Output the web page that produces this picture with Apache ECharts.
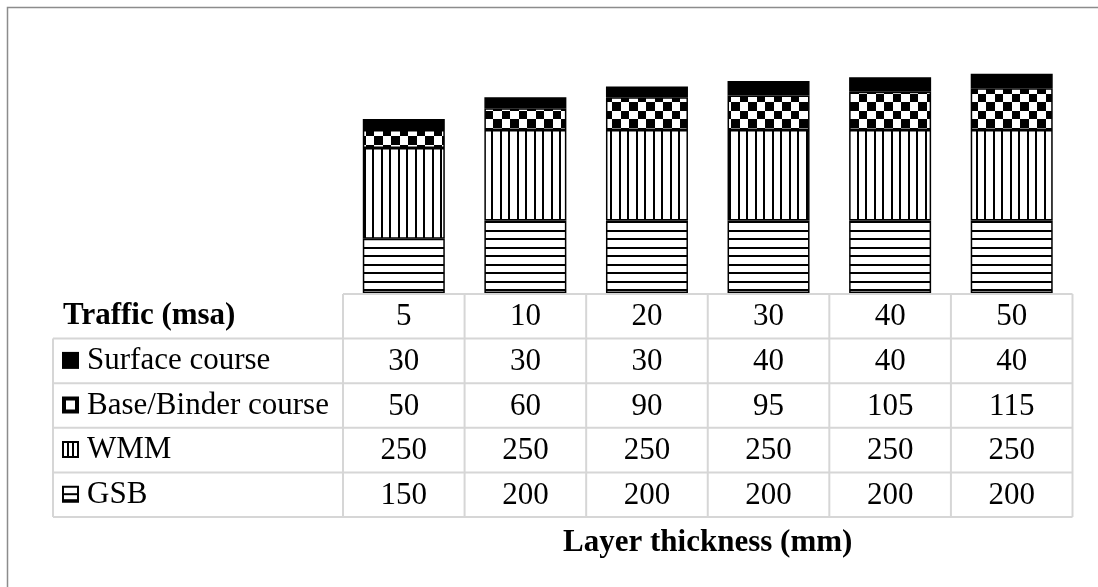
<!DOCTYPE html>
<html>
<head>
<meta charset="utf-8">
<script src="https://cdn.jsdelivr.net/npm/echarts@6/dist/echarts.min.js"></script>
<style>
  html, body { margin: 0; padding: 0; background: #ffffff; }
  #chart { width: 1098px; height: 587px; }
</style>
</head>
<body>
<div id="chart"></div>
<script>
// Pavement layer thicknesses (mm) per design traffic (msa)
const traffic = ['5', '10', '20', '30', '40', '50'];
const surfaceCourse = [30, 30, 30, 40, 40, 40];
const baseBinderCourse = [50, 60, 90, 95, 105, 115];
const wmm = [250, 250, 250, 250, 250, 250];
const gsb = [150, 200, 200, 200, 200, 200];

const rowHeader = 'Traffic (msa)';
const layerNames = ['Surface course', 'Base/Binder course', 'WMM', 'GSB'];
const axisTitle = 'Layer thickness (mm)';

const FONT = "'Liberation Serif', 'Times New Roman', serif";
const GRID_LINE = '#d6d6d6';

// Hatch tiles used as bar fills
function tile(draw) {
  const c = document.createElement('canvas');
  c.width = 17; c.height = 17;
  const g = c.getContext('2d');
  g.fillStyle = '#ffffff';
  g.fillRect(0, 0, 17, 17);
  g.fillStyle = '#000000';
  draw(g);
  return c;
}
const hLines = tile(g => { g.fillRect(0, 0, 17, 2); g.fillRect(0, 9, 17, 2); });
const vLines = tile(g => { g.fillRect(7, 0, 2, 17); g.fillRect(15, 0, 2, 17); });
const checker = tile(g => { g.fillRect(0, 0, 9, 9); g.fillRect(9, 9, 8, 8); });

// Stacked bottom-to-top
const layers = [
  { name: 'GSB', data: gsb, fill: { image: hLines, repeat: 'repeat' } },
  { name: 'WMM', data: wmm, fill: { image: vLines, repeat: 'repeat' } },
  { name: 'Base/Binder course', data: baseBinderCourse, fill: { image: checker, repeat: 'repeat' } },
  { name: 'Surface course', data: surfaceCourse, fill: '#000000' }
];

// Table rows, top-to-bottom
const tableRows = [surfaceCourse, baseBinderCourse, wmm, gsb];

const chart = echarts.init(document.getElementById('chart'), null, { renderer: 'canvas' });

chart.setOption({
  animation: false,
  backgroundColor: '#ffffff',
  grid: { left: 343, right: 25.5, top: 39.25, bottom: 294, outerBoundsMode: 'none' },
  xAxis: {
    type: 'category',
    data: traffic,
    axisLine: { show: false },
    axisTick: { show: false },
    axisLabel: { show: false },
    splitLine: { show: false }
  },
  yAxis: { type: 'value', min: 0, max: 700, show: false },
  series: layers.map(l => ({
    type: 'bar',
    name: l.name,
    stack: 'layers',
    data: l.data,
    barWidth: 82,
    silent: true,
    emphasis: { disabled: true },
    itemStyle: { color: l.fill, borderColor: '#000000', borderWidth: 1.5 }
  }))
});

// Data table under the plot, aligned to the category axis
const centers = traffic.map((t, i) => chart.convertToPixel({ xAxisIndex: 0 }, i));
const band = centers[1] - centers[0];
const colLeft = centers[0] - band / 2;
const colRight = centers[centers.length - 1] + band / 2;
const baseY = chart.convertToPixel({ yAxisIndex: 0 }, 0);
const tableTop = baseY + 1;
const rowH = 44.6;
const headLeft = 53;

const els = [];
const line = (x1, y1, x2, y2, color, w) => els.push({
  type: 'line', silent: true,
  shape: { x1, y1, x2, y2 },
  style: { stroke: color, lineWidth: w }
});
const text = (str, x, y, align, bold) => els.push({
  type: 'text', silent: true, x, y,
  style: {
    text: str, fill: '#000000', font: (bold ? 'bold ' : '') + '31px ' + FONT,
    align, verticalAlign: 'middle'
  }
});

// outer frame
els.push({
  type: 'rect', silent: true,
  shape: { x: 7.5, y: 7.5, width: 1200, height: 1000 },
  style: { fill: null, stroke: '#8c8c8c', lineWidth: 1.5 }
});

// horizontal rules
line(colLeft, tableTop, colRight, tableTop, GRID_LINE, 2);
for (let r = 1; r <= tableRows.length + 1; r++) {
  const y = tableTop + r * rowH;
  line(headLeft, y, colRight, y, GRID_LINE, 2);
}
// vertical rules
const tableBottom = tableTop + (tableRows.length + 1) * rowH;
line(headLeft, tableTop + rowH, headLeft, tableBottom, GRID_LINE, 2);
for (let c = 0; c <= traffic.length; c++) {
  const x = colLeft + c * band;
  line(x, tableTop, x, tableBottom, GRID_LINE, 2);
}

// header row
text(rowHeader, 63, tableTop + rowH / 2, 'left', true);
traffic.forEach((t, i) => text(t, centers[i], tableTop + rowH / 2 + 1, 'center', false));

// layer rows with keys
const keyX = 62, keyS = 17;
tableRows.forEach((vals, r) => {
  const cy = tableTop + (r + 1.5) * rowH;
  const ky = cy - keyS / 2 - 0.5;
  if (r === 0) {
    els.push({ type: 'rect', silent: true, shape: { x: keyX, y: ky, width: keyS, height: keyS }, style: { fill: '#000' } });
  } else if (r === 1) {
    els.push({ type: 'rect', silent: true, shape: { x: keyX, y: ky, width: keyS, height: keyS }, style: { fill: '#000' } });
    els.push({ type: 'rect', silent: true, shape: { x: keyX + 4, y: ky + 4, width: 9, height: 9 }, style: { fill: '#fff' } });
  } else if (r === 2) {
    els.push({ type: 'rect', silent: true, shape: { x: keyX + 1, y: ky + 1, width: keyS - 2, height: keyS - 2 }, style: { fill: '#fff', stroke: '#000', lineWidth: 2 } });
    line(keyX + 6, ky + 1, keyX + 6, ky + keyS - 1, '#000', 2);
    line(keyX + 11, ky + 1, keyX + 11, ky + keyS - 1, '#000', 2);
  } else {
    els.push({ type: 'rect', silent: true, shape: { x: keyX + 1, y: ky + 1, width: keyS - 2, height: keyS - 2 }, style: { fill: '#fff', stroke: '#000', lineWidth: 2 } });
    line(keyX + 1, ky + 8.5, keyX + keyS - 1, ky + 8.5, '#000', 2);
    line(keyX + 1, ky + keyS - 2.5, keyX + keyS - 1, ky + keyS - 2.5, '#000', 2);
  }
  text(layerNames[r], 87, cy, 'left', false);
  vals.forEach((v, i) => text(String(v), centers[i], cy + 1, 'center', false));
});

// axis title
text(axisTitle, (colLeft + colRight) / 2, tableBottom + 26, 'center', true);

chart.setOption({ graphic: { elements: els } });
</script>
</body>
</html>
